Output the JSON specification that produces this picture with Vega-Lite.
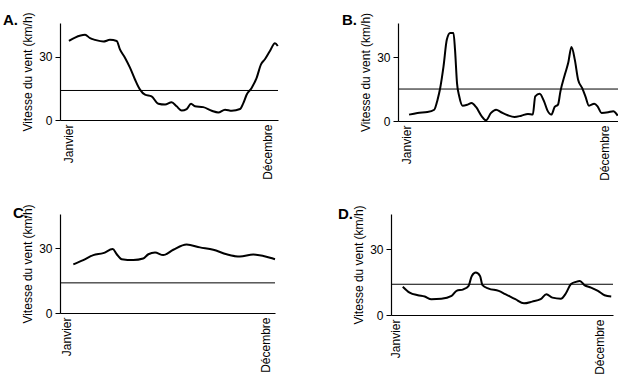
{
  "$schema": "https://vega.github.io/schema/vega-lite/v6.json",
  "padding": {"left": 3, "top": 11, "right": 0, "bottom": 0},
  "background": "white",
  "datasets": {
    "vent": [
      {"panel": "A", "t": 4.1, "v": 37.5}, {"panel": "A", "t": 6.9, "v": 39.1}, {"panel": "A", "t": 11.5, "v": 40.4}, {"panel": "A", "t": 13.8, "v": 38.8},
      {"panel": "A", "t": 16.1, "v": 38}, {"panel": "A", "t": 19.9, "v": 37.2}, {"panel": "A", "t": 22.9, "v": 38}, {"panel": "A", "t": 26, "v": 37.5},
      {"panel": "A", "t": 27.5, "v": 33.5}, {"panel": "A", "t": 29.8, "v": 29.5}, {"panel": "A", "t": 32.1, "v": 24.8}, {"panel": "A", "t": 34.4, "v": 19.2},
      {"panel": "A", "t": 36.7, "v": 14.4}, {"panel": "A", "t": 39, "v": 12}, {"panel": "A", "t": 42, "v": 11.2}, {"panel": "A", "t": 45.1, "v": 7.7},
      {"panel": "A", "t": 48.2, "v": 7.3}, {"panel": "A", "t": 51.2, "v": 8.4}, {"panel": "A", "t": 53.5, "v": 6.5}, {"panel": "A", "t": 55.8, "v": 4.5},
      {"panel": "A", "t": 58.1, "v": 5.2}, {"panel": "A", "t": 60.1, "v": 7.7}, {"panel": "A", "t": 61.9, "v": 6.5}, {"panel": "A", "t": 65.7, "v": 6.1},
      {"panel": "A", "t": 69.6, "v": 4.4}, {"panel": "A", "t": 72.6, "v": 3.6}, {"panel": "A", "t": 75.7, "v": 4.9}, {"panel": "A", "t": 78.8, "v": 4.4},
      {"panel": "A", "t": 82.6, "v": 5.2}, {"panel": "A", "t": 84.1, "v": 8}, {"panel": "A", "t": 85.6, "v": 12}, {"panel": "A", "t": 87.9, "v": 15.2},
      {"panel": "A", "t": 90.2, "v": 20}, {"panel": "A", "t": 92.2, "v": 26.4}, {"panel": "A", "t": 94, "v": 28.8}, {"panel": "A", "t": 96.3, "v": 32.7},
      {"panel": "A", "t": 98.6, "v": 36.4}, {"panel": "A", "t": 99.9, "v": 35.1},

      {"panel": "B", "t": 5, "v": 3.0}, {"panel": "B", "t": 8.8, "v": 3.8}, {"panel": "B", "t": 13.3, "v": 4.2}, {"panel": "B", "t": 16.4, "v": 5.3},
      {"panel": "B", "t": 17.9, "v": 10}, {"panel": "B", "t": 19.1, "v": 15.5}, {"panel": "B", "t": 20.6, "v": 25.6}, {"panel": "B", "t": 22.1, "v": 38.2},
      {"panel": "B", "t": 23.6, "v": 41.3}, {"panel": "B", "t": 25.1, "v": 41.3}, {"panel": "B", "t": 25.8, "v": 33.5}, {"panel": "B", "t": 26.7, "v": 17.8},
      {"panel": "B", "t": 27.7, "v": 11.6}, {"panel": "B", "t": 29.2, "v": 7.2}, {"panel": "B", "t": 31.5, "v": 7.7}, {"panel": "B", "t": 33.3, "v": 8.4},
      {"panel": "B", "t": 35.3, "v": 6.6}, {"panel": "B", "t": 37.9, "v": 2.2}, {"panel": "B", "t": 39.8, "v": 0.3}, {"panel": "B", "t": 42.1, "v": 3.8},
      {"panel": "B", "t": 44.4, "v": 5.3}, {"panel": "B", "t": 46.7, "v": 4.1}, {"panel": "B", "t": 49.7, "v": 2.7}, {"panel": "B", "t": 52.7, "v": 1.9},
      {"panel": "B", "t": 55.8, "v": 2.5}, {"panel": "B", "t": 58.8, "v": 3.3}, {"panel": "B", "t": 61, "v": 3.0}, {"panel": "B", "t": 62.1, "v": 11.6},
      {"panel": "B", "t": 64.1, "v": 12.8}, {"panel": "B", "t": 66.1, "v": 9.2}, {"panel": "B", "t": 67.6, "v": 5.0}, {"panel": "B", "t": 69.4, "v": 3.0},
      {"panel": "B", "t": 70.9, "v": 6.6}, {"panel": "B", "t": 72.4, "v": 7.7}, {"panel": "B", "t": 73.5, "v": 13.9}, {"panel": "B", "t": 75.5, "v": 21.8},
      {"panel": "B", "t": 77, "v": 27.2}, {"panel": "B", "t": 78.5, "v": 34.7}, {"panel": "B", "t": 80, "v": 28.8}, {"panel": "B", "t": 81.5, "v": 19.4},
      {"panel": "B", "t": 83.3, "v": 15.5}, {"panel": "B", "t": 84.8, "v": 11.6}, {"panel": "B", "t": 86.4, "v": 7.2}, {"panel": "B", "t": 88.8, "v": 8.1},
      {"panel": "B", "t": 90.3, "v": 6.9}, {"panel": "B", "t": 92.1, "v": 3.8}, {"panel": "B", "t": 95.1, "v": 4.1}, {"panel": "B", "t": 97.4, "v": 4.6},
      {"panel": "B", "t": 99.4, "v": 2.5},

      {"panel": "C", "t": 6.2, "v": 22.6}, {"panel": "C", "t": 10.8, "v": 24.6}, {"panel": "C", "t": 15.5, "v": 26.9}, {"panel": "C", "t": 20.1, "v": 27.8},
      {"panel": "C", "t": 24.5, "v": 29.7}, {"panel": "C", "t": 26.4, "v": 27.3}, {"panel": "C", "t": 28.7, "v": 25}, {"panel": "C", "t": 34.1, "v": 24.6},
      {"panel": "C", "t": 38.7, "v": 25.3}, {"panel": "C", "t": 41.1, "v": 27.3}, {"panel": "C", "t": 44.2, "v": 28.1}, {"panel": "C", "t": 48, "v": 26.9},
      {"panel": "C", "t": 52.7, "v": 29.4}, {"panel": "C", "t": 58.9, "v": 31.8}, {"panel": "C", "t": 65.1, "v": 30.5}, {"panel": "C", "t": 71.3, "v": 29.4},
      {"panel": "C", "t": 77.5, "v": 27.3}, {"panel": "C", "t": 83.7, "v": 26.2}, {"panel": "C", "t": 89.9, "v": 27.2}, {"panel": "C", "t": 94.6, "v": 26.5},
      {"panel": "C", "t": 97.7, "v": 25.7}, {"panel": "C", "t": 100, "v": 25},

      {"panel": "D", "t": 5.3, "v": 12.9}, {"panel": "D", "t": 8.4, "v": 10.2}, {"panel": "D", "t": 12.1, "v": 9.0}, {"panel": "D", "t": 15.2, "v": 8.4},
      {"panel": "D", "t": 18.2, "v": 7.2}, {"panel": "D", "t": 22.7, "v": 7.4}, {"panel": "D", "t": 27.3, "v": 8.7}, {"panel": "D", "t": 29.5, "v": 11},
      {"panel": "D", "t": 32.6, "v": 11.7}, {"panel": "D", "t": 34.9, "v": 13.2}, {"panel": "D", "t": 36.4, "v": 17.8}, {"panel": "D", "t": 38.2, "v": 19.3},
      {"panel": "D", "t": 40.1, "v": 17.8}, {"panel": "D", "t": 41.2, "v": 13.6}, {"panel": "D", "t": 44, "v": 12}, {"panel": "D", "t": 48.5, "v": 11},
      {"panel": "D", "t": 51.5, "v": 9.5}, {"panel": "D", "t": 56, "v": 7.2}, {"panel": "D", "t": 59.9, "v": 5.3}, {"panel": "D", "t": 63.6, "v": 6.1},
      {"panel": "D", "t": 67.4, "v": 7.2}, {"panel": "D", "t": 70, "v": 9.5}, {"panel": "D", "t": 72.7, "v": 7.9}, {"panel": "D", "t": 76.5, "v": 7.4},
      {"panel": "D", "t": 78.8, "v": 9.9}, {"panel": "D", "t": 81, "v": 14}, {"panel": "D", "t": 83.3, "v": 15.1}, {"panel": "D", "t": 85.1, "v": 15.5},
      {"panel": "D", "t": 87.1, "v": 13.6}, {"panel": "D", "t": 90.1, "v": 12.5}, {"panel": "D", "t": 93.2, "v": 11}, {"panel": "D", "t": 96.2, "v": 9},
      {"panel": "D", "t": 99.2, "v": 8.4}
    ],
    "seuils": [
      {"panel": "A", "v": 14}, {"panel": "B", "v": 15}, {"panel": "C", "v": 14}, {"panel": "D", "v": 14}
    ]
  },
  "config": {
    "font": "Liberation Sans",
    "view": {"stroke": null},
    "axis": {"grid": false, "domainColor": "black", "domainWidth": 1.2, "tickColor": "black", "labelColor": "black", "titleColor": "black", "labelFontSize": 12, "titleFontSize": 12, "titleFontWeight": "normal"},
    "title": {"fontSize": 15, "fontWeight": "bold", "anchor": "start", "frame": "group", "color": "black", "offset": -20}
  },
  "spacing": 22,
  "vconcat": [
    {
      "spacing": 60,
      "hconcat": [
        {
          "width": 218, "height": 97,
          "title": {"text": "A.", "dx": -57, "dy": -4},
          "layer": [
            {"data": {"name": "vent"}, "transform": [{"filter": "datum.panel == 'A'"}],
             "mark": {"type": "line", "color": "black", "strokeWidth": 2, "interpolate": "monotone"},
             "encoding": {
               "x": {"field": "t", "type": "quantitative", "scale": {"domain": [0, 100], "nice": false}, "axis": {"title": null, "values": [3.7, 95.4], "labelExpr": "datum.value < 50 ? 'Janvier' : 'Décembre'", "labelAngle": 270, "labelAlign": "right", "labelBaseline": "middle", "ticks": false, "labelPadding": 4, "labelFlush": false, "labelOverlap": false}},
               "y": {"field": "v", "type": "quantitative", "scale": {"domain": [0, 46], "nice": false}, "axis": {"title": "Vitesse du vent (km/h)", "values": [0, 30], "tickSize": 5, "labelPadding": 3, "titlePadding": 4}}
             }},
            {"data": {"name": "seuils"}, "transform": [{"filter": "datum.panel == 'A'"}],
             "mark": {"type": "rule", "color": "black", "strokeWidth": 1},
             "encoding": {"y": {"field": "v", "type": "quantitative"}}}
          ]
        },
        {
          "width": 221, "height": 98,
          "title": {"text": "B.", "dx": -56, "dy": -4},
          "layer": [
            {"data": {"name": "vent"}, "transform": [{"filter": "datum.panel == 'B'"}],
             "mark": {"type": "line", "color": "black", "strokeWidth": 2, "interpolate": "monotone"},
             "encoding": {
               "x": {"field": "t", "type": "quantitative", "scale": {"domain": [0, 100], "nice": false}, "axis": {"title": null, "values": [3.9, 93.5], "labelExpr": "datum.value < 50 ? 'Janvier' : 'Décembre'", "labelAngle": 270, "labelAlign": "right", "labelBaseline": "middle", "ticks": false, "labelPadding": 4, "labelFlush": false, "labelOverlap": false}},
               "y": {"field": "v", "type": "quantitative", "scale": {"domain": [0, 46], "nice": false}, "axis": {"title": "Vitesse du vent (km/h)", "values": [0, 30], "tickSize": 5, "labelPadding": 3, "titlePadding": 4}}
             }},
            {"data": {"name": "seuils"}, "transform": [{"filter": "datum.panel == 'B'"}],
             "mark": {"type": "rule", "color": "black", "strokeWidth": 1},
             "encoding": {"y": {"field": "v", "type": "quantitative"}}}
          ]
        }
      ]
    },
    {
      "spacing": 59,
      "hconcat": [
        {
          "width": 215, "height": 99,
          "title": {"text": "C.", "dx": -47, "dy": -3},
          "layer": [
            {"data": {"name": "vent"}, "transform": [{"filter": "datum.panel == 'C'"}],
             "mark": {"type": "line", "color": "black", "strokeWidth": 2, "interpolate": "monotone"},
             "encoding": {
               "x": {"field": "t", "type": "quantitative", "scale": {"domain": [0, 100], "nice": false}, "axis": {"title": null, "values": [2.9, 95.5], "labelExpr": "datum.value < 50 ? 'Janvier' : 'Décembre'", "labelAngle": 270, "labelAlign": "right", "labelBaseline": "middle", "ticks": false, "labelPadding": 4, "labelFlush": false, "labelOverlap": false}},
               "y": {"field": "v", "type": "quantitative", "scale": {"domain": [0, 46], "nice": false}, "axis": {"title": "Vitesse du vent (km/h)", "values": [0, 30], "tickSize": 5, "labelPadding": 3, "titlePadding": 4}}
             }},
            {"data": {"name": "seuils"}, "transform": [{"filter": "datum.panel == 'C'"}],
             "mark": {"type": "rule", "color": "black", "strokeWidth": 1},
             "encoding": {"y": {"field": "v", "type": "quantitative"}}}
          ]
        },
        {
          "width": 222, "height": 101,
          "title": {"text": "D.", "dx": -53, "dy": -3},
          "layer": [
            {"data": {"name": "vent"}, "transform": [{"filter": "datum.panel == 'D'"}],
             "mark": {"type": "line", "color": "black", "strokeWidth": 2, "interpolate": "monotone"},
             "encoding": {
               "x": {"field": "t", "type": "quantitative", "scale": {"domain": [0, 100], "nice": false}, "axis": {"title": null, "values": [2, 94], "labelExpr": "datum.value < 50 ? 'Janvier' : 'Décembre'", "labelAngle": 270, "labelAlign": "right", "labelBaseline": "middle", "ticks": false, "labelPadding": 4, "labelFlush": false, "labelOverlap": false}},
               "y": {"field": "v", "type": "quantitative", "scale": {"domain": [0, 46], "nice": false}, "axis": {"title": "Vitesse du vent (km/h)", "values": [0, 30], "tickSize": 5, "labelPadding": 3, "titlePadding": 4}}
             }},
            {"data": {"name": "seuils"}, "transform": [{"filter": "datum.panel == 'D'"}],
             "mark": {"type": "rule", "color": "black", "strokeWidth": 1},
             "encoding": {"y": {"field": "v", "type": "quantitative"}}}
          ]
        }
      ]
    }
  ]
}
